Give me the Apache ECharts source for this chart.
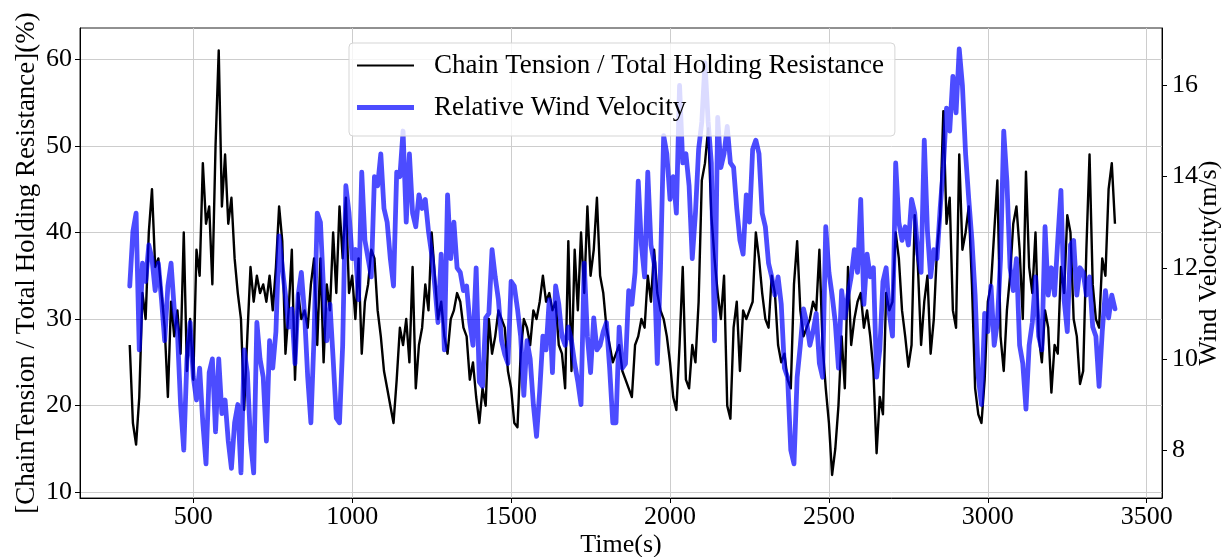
<!DOCTYPE html>
<html>
<head>
<meta charset="utf-8">
<script src="https://cdn.jsdelivr.net/npm/echarts@6/dist/echarts.min.js"></script>
<style>
  html, body { margin: 0; padding: 0; background: #fff; }
  #chart { width: 1224px; height: 557px; }
</style>
</head>
<body>
<div id="chart"></div>
<script>
// Sampling grid of the record: one value every 10 s from 300 s to 3400 s
const T_START = 300;
const T_STEP = 10;

// Chain tension as a share of total holding resistance (%), left axis
const tensionRatio = [
  27, 18, 15.5, 21, 33, 30, 40, 45, 36, 37,
  33, 29, 21, 32, 28, 31, 26, 40, 24, 30,
  23, 38, 35, 48, 41, 43, 34, 50, 61, 43,
  49, 41, 44, 37, 33, 30, 19.5, 28, 36, 32,
  35, 33, 34, 32, 35, 31, 36, 43, 39, 26,
  31, 38, 23, 33, 30, 31, 29, 34, 37, 27,
  37, 25, 34, 31, 40, 33, 43, 37, 44, 33,
  35, 30, 37, 26, 32, 34, 38, 37, 31, 28,
  24, 22, 20, 18, 23, 29, 27, 30, 25, 36,
  22, 27, 29, 34, 31, 40, 35, 30, 32, 28,
  26, 30, 31, 33, 32, 29, 28, 23, 25, 21,
  18, 22, 20, 30, 26, 28, 31, 30, 29, 24,
  22, 18, 17.5, 26, 30, 29, 27, 31, 30, 32,
  35, 32, 33, 31, 32, 27, 26, 22, 39, 24,
  38, 31, 40, 33, 43, 35, 38, 44, 35, 33,
  29, 27, 25, 26, 27, 24, 23, 22, 21, 27,
  28, 30, 29, 35, 32, 38, 33, 31, 30, 28,
  25, 21, 19.5, 27, 36, 23, 22, 27, 25, 32,
  46, 48, 52, 42, 37, 33, 30, 35, 20, 18.5,
  29, 32, 24, 31, 30, 31, 32, 40, 37, 33,
  30, 29, 35, 33, 27, 25, 26, 23, 22, 34,
  39, 31, 28, 29, 30, 32, 31, 38, 27, 22,
  18, 12, 15, 20, 28, 22, 36, 27, 30, 32,
  33, 29, 31, 28, 24, 14.5, 21, 19, 33, 31,
  32, 40, 37, 31, 28, 24.5, 27, 42, 36, 27,
  32, 35, 26, 30, 38, 42, 54, 41, 44, 31,
  29, 49, 38, 40, 43, 34, 22, 19, 18, 23,
  32, 34, 40, 46, 28, 24, 31, 35, 41, 43,
  38, 30, 47, 36, 33, 40, 28, 25, 31, 29,
  21.5, 27, 26, 36, 33, 42, 40, 30, 28, 22.5,
  24, 38, 49, 34, 30, 29, 37, 35, 45, 48,
  41
];

// Relative wind velocity (m/s), right axis
const windVelocity = [
  11.6, 12.8, 13.2, 10.2, 12.1, 11.7, 12.5, 12.2, 11.5, 12.1,
  11.3, 10.4, 11.6, 12.1, 11.1, 10.6, 9.0, 8.0, 10.0, 10.8,
  9.6, 9.1, 9.8, 8.6, 7.7, 9.7, 10.0, 8.4, 10.0, 8.8,
  9.1, 8.2, 7.6, 8.6, 9.0, 7.5, 10.2, 9.7, 8.2, 7.5,
  10.8, 10.0, 9.6, 8.2, 10.4, 9.8, 10.6, 12.7, 12.0, 11.4,
  10.7, 11.1, 9.9, 11.4, 11.9, 11.0, 9.6, 8.6, 10.5, 13.2,
  13.0, 11.5, 10.4, 11.2, 10.0, 8.7, 8.6, 10.3, 13.8, 13.2,
  12.2, 12.4, 11.3, 14.1, 12.6, 12.2, 11.8, 14.0, 13.8, 14.5,
  13.3, 13.0, 12.2, 11.6, 14.1, 14.0, 15.0, 13.0, 14.5, 13.2,
  12.9, 13.6, 13.3, 13.5, 12.8, 12.3, 11.6, 10.8, 12.3, 10.2,
  13.6, 12.2, 13.0, 12.0, 11.9, 11.5, 11.6, 10.8, 10.3, 12.0,
  9.5, 9.4, 10.9, 11.0, 12.4, 11.8, 11.3, 10.4, 10.1, 9.9,
  11.7, 11.6, 11.1, 10.5, 9.2, 10.4, 10.0, 9.0, 8.3, 9.3,
  10.5, 10.2, 11.3, 9.7, 11.6, 11.2, 10.5, 10.3, 10.7, 10.4,
  9.9, 9.5, 9.0, 12.1, 10.5, 9.7, 10.9, 10.2, 10.3, 10.6,
  10.8, 9.8, 8.6, 8.6, 10.7, 9.8, 9.9, 11.5, 11.2, 11.9,
  13.9, 12.5, 11.8, 14.1, 12.5, 12.1, 9.9, 12.0, 14.9, 14.5,
  13.5, 14.0, 13.2, 16.0, 14.3, 14.5, 13.8, 12.2, 13.2, 14.6,
  15.2, 16.5, 15.2, 14.3, 10.4, 15.3, 14.2, 14.5, 15.1, 14.3,
  14.2, 13.3, 12.6, 12.3, 13.6, 13.0, 14.6, 14.8, 14.5, 13.2,
  12.9, 12.1, 11.8, 11.4, 11.8, 11.2, 9.8, 9.6, 8.0, 7.7,
  9.6, 10.3, 11.1, 10.8, 10.3, 10.6, 11.0, 9.9, 9.6, 12.9,
  11.9, 11.4, 10.8, 9.8, 11.5, 10.9, 11.4, 11.8, 12.4, 11.9,
  13.5, 11.2, 12.3, 11.8, 12.0, 9.6, 10.2, 11.7, 12.0, 11.0,
  10.5, 14.3, 13.0, 12.6, 12.9, 12.5, 13.5, 13.2, 12.3, 11.9,
  14.8, 12.8, 11.8, 12.4, 12.2, 13.3, 14.2, 15.5, 15.0, 16.2,
  15.4, 16.8, 16.0, 14.5, 13.5, 12.6, 11.4, 9.6, 9.0, 11.0,
  10.6, 11.6, 10.3, 10.8, 12.2, 15.0, 13.9, 12.0, 11.5, 12.2,
  10.3, 9.9, 8.9, 10.3, 10.8, 11.8, 10.5, 10.2, 12.9, 11.4,
  12.0, 11.4, 12.6, 13.7, 11.3, 10.6, 12.5, 12.6, 11.4, 12.0,
  11.9, 11.4, 11.8, 10.7, 10.5, 9.4, 10.6, 11.5, 10.9, 11.4,
  11.1
];

// Tick positions on each axis
const timeTicks = [500, 1000, 1500, 2000, 2500, 3000, 3500];
const ratioTicks = [10, 20, 30, 40, 50, 60];
const windTicks = [8, 10, 12, 14, 16];

const seriesNames = ['Chain Tension / Total Holding Resistance', 'Relative Wind Velocity'];

const pairUp = vals => vals.map((v, i) => [T_START + i * T_STEP, v]);

const FONT = '"Liberation Serif", "Times New Roman", serif';
const labelStyle = { fontFamily: FONT, fontSize: 26, color: '#000' };
const titleStyle = { fontFamily: FONT, fontSize: 27, color: '#000' };
const plainNumber = v => String(v);

const chart = echarts.init(document.getElementById('chart'), null, { renderer: 'canvas' });

chart.setOption({
  animation: false,
  backgroundColor: '#fff',
  grid: {
    left: 80, right: 62, top: 28, bottom: 59,
    outerBoundsMode: 'none',
    containLabel: false,
    show: true, borderColor: '#222', borderWidth: 1, backgroundColor: 'transparent'
  },
  legend: {
    orient: 'vertical',
    left: 349, top: 43,
    data: [
      // flat bars as keys: a thin one for tension, a thick one for wind
      { name: seriesNames[0], icon: 'path://M0 0H57V2.2H0Z' },
      { name: seriesNames[1], icon: 'path://M0 0H57V5H0Z' }
    ],
    itemWidth: 57, itemHeight: 14, itemGap: 15,
    padding: [9, 11, 15, 8],
    backgroundColor: 'rgba(255,255,255,0.8)',
    borderColor: '#d5d5d5', borderWidth: 1, borderRadius: 4,
    textStyle: { fontFamily: FONT, fontSize: 27, color: '#000', padding: [0, 0, 0, 15] },
    z: 10
  },
  xAxis: {
    type: 'value',
    min: 143.5, max: 3548,
    name: 'Time(s)',
    nameLocation: 'middle',
    nameGap: 34,
    nameMoveOverlap: false,
    nameTextStyle: labelStyle,
    axisLine: { show: true, lineStyle: { color: '#000', width: 1 } },
    axisTick: { show: true, length: 5, customValues: timeTicks, lineStyle: { color: '#000' } },
    axisLabel: { customValues: timeTicks, margin: 6, formatter: plainNumber, ...labelStyle },
    splitLine: { show: true, lineStyle: { color: '#cdcdcd', width: 1 } }
  },
  yAxis: [
    {
      type: 'value',
      position: 'left',
      min: 9.34, max: 63.6,
      name: '[ChainTension / Total Holding Resistance](%)',
      nameLocation: 'middle',
      nameGap: 40,
      nameMoveOverlap: false,
      nameTextStyle: titleStyle,
      axisLine: { show: true, lineStyle: { color: '#000', width: 1 } },
      axisTick: { show: true, length: 5, customValues: ratioTicks, lineStyle: { color: '#000' } },
      axisLabel: { customValues: ratioTicks, margin: 8, formatter: plainNumber, ...labelStyle },
      splitLine: { show: true, lineStyle: { color: '#cdcdcd', width: 1 } }
    },
    {
      type: 'value',
      position: 'right',
      min: 6.95, max: 17.26,
      name: 'Wind Velocity(m/s)',
      nameLocation: 'middle',
      nameGap: 34,
      nameMoveOverlap: false,
      nameTextStyle: labelStyle,
      axisLine: { show: true, lineStyle: { color: '#000', width: 1 } },
      axisTick: { show: true, length: 5, customValues: windTicks, lineStyle: { color: '#000' } },
      axisLabel: { customValues: windTicks, margin: 10, formatter: plainNumber, ...labelStyle },
      splitLine: { show: false }
    }
  ],
  series: [
    {
      name: seriesNames[0],
      type: 'line',
      yAxisIndex: 0,
      data: pairUp(tensionRatio),
      symbol: 'none',
      color: '#000',
      lineStyle: { color: '#000', width: 2.4, join: 'round' },
      z: 2
    },
    {
      name: seriesNames[1],
      type: 'line',
      yAxisIndex: 1,
      data: pairUp(windVelocity),
      symbol: 'none',
      color: 'rgba(0,0,255,0.7)',
      lineStyle: { color: 'rgba(0,0,255,0.7)', width: 4.8, join: 'round', cap: 'round' },
      z: 3
    }
  ]
});
</script>
</body>
</html>
